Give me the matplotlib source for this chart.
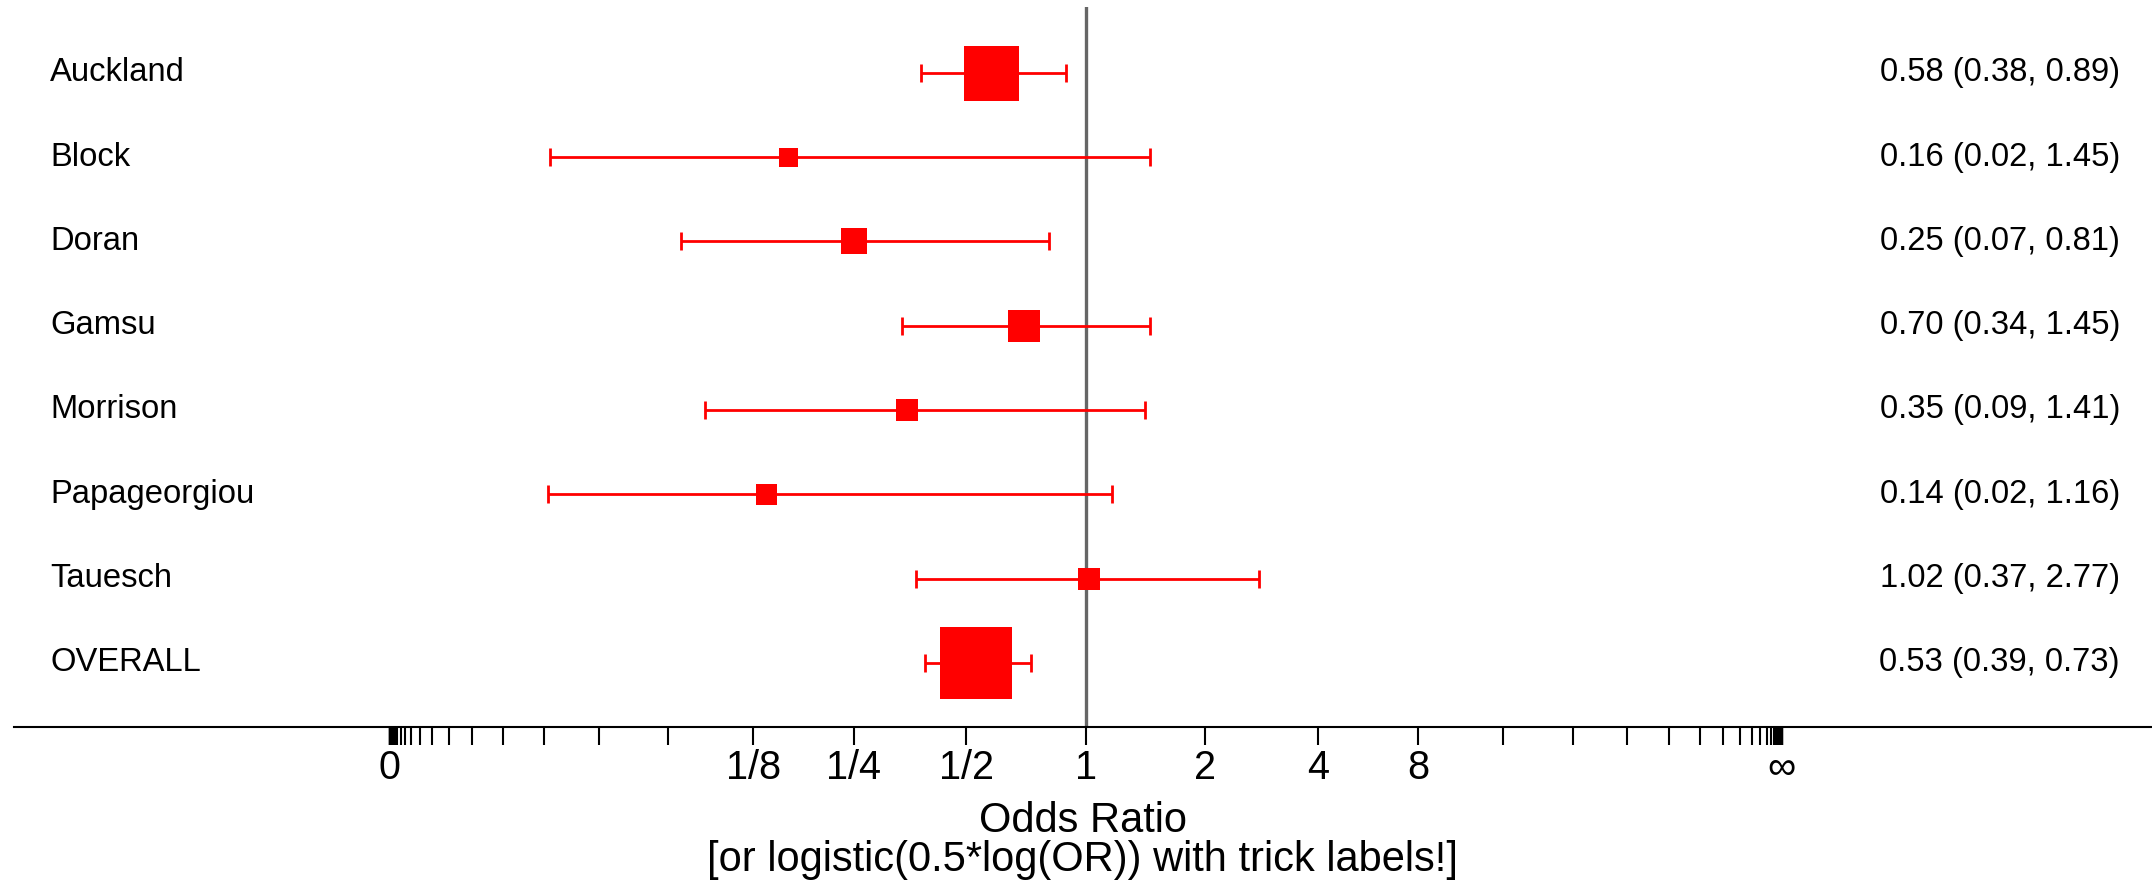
import numpy as np
import matplotlib
matplotlib.use('Agg')
import matplotlib.pyplot as plt

plt.rcParams['font.family'] = ['Liberation Sans', 'DejaVu Sans']

# Study data: odds ratio with 95% CI (printed to 2 d.p.)
studies = ['Auckland', 'Block', 'Doran', 'Gamsu', 'Morrison', 'Papageorgiou', 'Tauesch', 'OVERALL']
odds = [0.577, 0.16, 0.25, 0.70, 0.35, 0.137, 1.02, 0.53]
ci_lo = [0.38, 0.017, 0.07, 0.34, 0.086, 0.0165, 0.37, 0.39]
ci_hi = [0.89, 1.45, 0.81, 1.45, 1.41, 1.16, 2.77, 0.73]
weight = [55, 19, 27, 32, 22, 21, 23, 72]     # relative box size

def trick(o):       # logistic(0.5*log(OR)) = sqrt(OR)/(1+sqrt(OR))
    s = np.sqrt(np.asarray(o, dtype=float))
    return s/(1+s)

fig = plt.figure(figsize=(21.52, 8.8), dpi=100)
ax = fig.add_axes([0.0065, 0.174, 0.9935, 0.818])

ax.axvline(trick(1.0), color='#666666', lw=2.4, zorder=1)

y = np.arange(1, len(studies)+1)
x = trick(odds)
xl = trick(ci_lo)
xh = trick(ci_hi)
for i in range(len(studies)):
    ax.errorbar(x[i], y[i], xerr=[[x[i]-xl[i]], [xh[i]-x[i]]], fmt='none',
                ecolor='red', elinewidth=2, capsize=6.5, capthick=2, zorder=2)
    ax.plot(x[i], y[i], 's', color='red', ms=weight[i]*0.72, mew=0, zorder=3)
    ax.text(-0.244, y[i], studies[i], ha='left', va='center', fontsize=23.6)
    ax.text(1.243, y[i], '%.2f (%.2f, %.2f)' % (odds[i], ci_lo[i], ci_hi[i]),
            ha='right', va='center', fontsize=23.6)

# ticks: labelled powers of two plus 0 and infinity, minor ticks for the rest
lab_pow = [-3, -2, -1, 0, 1, 2, 3]
lab_txt = ['1/8', '1/4', '1/2', '1', '2', '4', '8']
major = [0.0] + list(trick(2.0**np.array(lab_pow))) + [1.0]
ax.set_xticks(major)
ax.set_xticklabels(['0'] + lab_txt + ['\u221e'], fontsize=28.5)
minor_pow = [k for k in range(-30, 31) if k not in lab_pow]
ax.set_xticks(trick(2.0**np.array(minor_pow)), minor=True)
ax.tick_params(axis='x', which='both', length=13, width=1.5, pad=3)

ax.set_xlim(-0.27, 1.266)
ax.set_ylim(8.76, 0.22)
ax.set_yticks([])
for s in ['left', 'right', 'top']:
    ax.spines[s].set_visible(False)
ax.spines['bottom'].set_linewidth(1.5)

ax.set_xlabel('Odds Ratio\n[or logistic(0.5*log(OR)) with trick labels!]',
              fontsize=30, linespacing=0.98, labelpad=10)

fig.savefig('out.png', dpi=100)
